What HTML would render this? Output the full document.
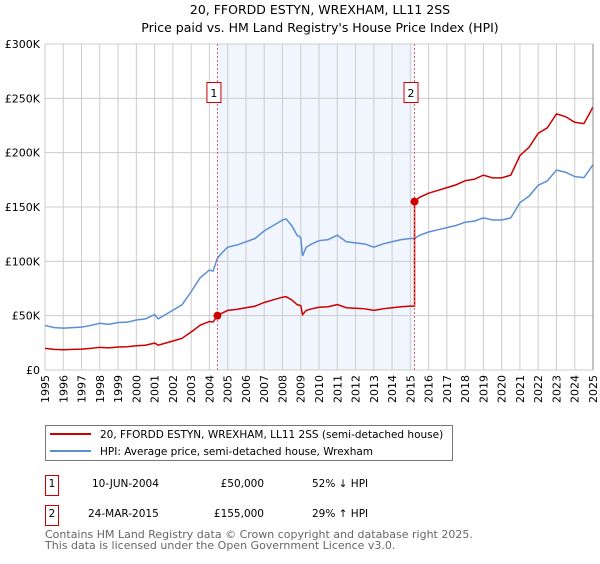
<!DOCTYPE html>
<html><head><meta charset="utf-8"><style>
body{margin:0;background:#fff;font-family:"DejaVu Sans","Liberation Sans",sans-serif;}
svg text{font-family:"DejaVu Sans","Liberation Sans",sans-serif;}
</style></head><body>
<svg width="600" height="560" viewBox="0 0 600 560" xmlns="http://www.w3.org/2000/svg">
<text x="320" y="14" text-anchor="middle" font-size="12.5">20, FFORDD ESTYN, WREXHAM, LL11 2SS</text>
<text x="320" y="32" text-anchor="middle" font-size="12.5">Price paid vs. HM Land Registry's House Price Index (HPI)</text>
<g id="plot"></g>
<g>
<rect x="45.5" y="425.5" width="407" height="35" fill="#fff" stroke="#777"/>
<line x1="50" y1="434" x2="91" y2="434" stroke="#cc0000" stroke-width="2"/>
<text x="100" y="438" font-size="10.5">20, FFORDD ESTYN, WREXHAM, LL11 2SS (semi-detached house)</text>
<line x1="50" y1="451" x2="91" y2="451" stroke="#5b8fd4" stroke-width="2"/>
<text x="100" y="455" font-size="10.5">HPI: Average price, semi-detached house, Wrexham</text>
</g>
<g font-size="10.5">
<rect x="45.5" y="475.5" width="13" height="20" fill="#fff" stroke="#cc0000"/>
<text x="52" y="487" text-anchor="middle">1</text>
<text x="92" y="487">10-JUN-2004</text>
<text x="264" y="487" text-anchor="end">£50,000</text>
<text x="312" y="487">52% ↓ HPI</text>
<rect x="45.5" y="505.5" width="13" height="20" fill="#fff" stroke="#cc0000"/>
<text x="52" y="517" text-anchor="middle">2</text>
<text x="88" y="517">24-MAR-2015</text>
<text x="264" y="517" text-anchor="end">£155,000</text>
<text x="312" y="517">29% ↑ HPI</text>
</g>
<text x="45" y="538" font-size="11" fill="#666">Contains HM Land Registry data © Crown copyright and database right 2025.</text>
<text x="45" y="549" font-size="11" fill="#666">This data is licensed under the Open Government Licence v3.0.</text>
</svg>
<script>
const hpiYears=[1995,1995.5,1996,1996.5,1997,1997.5,1998,1998.5,1999,1999.5,2000,2000.5,2001,2001.2,2001.5,2002,2002.5,2003,2003.5,2004,2004.2,2004.44,2004.7,2005,2005.5,2006,2006.5,2007,2007.5,2008,2008.2,2008.5,2008.8,2009,2009.1,2009.3,2009.6,2010,2010.5,2011,2011.5,2012,2012.5,2013,2013.5,2014,2014.5,2015,2015.23,2015.5,2016,2016.5,2017,2017.5,2018,2018.5,2019,2019.5,2020,2020.5,2021,2021.5,2022,2022.5,2023,2023.5,2024,2024.5,2024.8,2025];
const hpiValues=[41,39,38.5,39,39.5,41,43,42,43.7,44,46,47,51,47,50,55,60,72,85,92,91,103,108,113,115,118,121,128,133,138,139,133,124,122,105,113,116,119,120,124,118,117,116,113,116,118,120,121,121,124,127,129,131,133,136,137,140,138,138,140,154,160,170,174,184,182,178,177,184,189];
const saleYears=[2004.44,2015.23];
const salePrices=[50,155];
const yTicks=[0,50,100,150,200,250,300];
const yTickLabels=["£0","£50K","£100K","£150K","£200K","£250K","£300K"];
const xTicks=[1995,1996,1997,1998,1999,2000,2001,2002,2003,2004,2005,2006,2007,2008,2009,2010,2011,2012,2013,2014,2015,2016,2017,2018,2019,2020,2021,2022,2023,2024,2025];

const X0=45,X1=593,Y0=370,Y1=44;
const sx=y=>X0+(y-1995)/30*(X1-X0);
const sy=v=>Y0-v/300*(Y0-Y1);
const NS="http://www.w3.org/2000/svg";
const g=document.getElementById('plot');
function mk(t,a,p){const e=document.createElementNS(NS,t);for(const k in a)e.setAttribute(k,a[k]);(p||g).appendChild(e);return e;}

const shade=mk('rect',{x:sx(saleYears[0]),y:Y1,width:sx(saleYears[1])-sx(saleYears[0]),height:Y0-Y1,fill:'#eef3fc',opacity:0.8});



xTicks.forEach(t=>{
  const l=mk('line',{x1:sx(t),x2:sx(t),y1:Y1,y2:Y0,stroke:'#ccc','stroke-width':1});
  
  
  const tx=mk('text',{x:0,y:0,'font-size':11,'text-anchor':'end',transform:`translate(${sx(t)+4},${Y0+5}) rotate(-90)`});
  tx.textContent=t;
  
  
});
yTicks.forEach((t,i)=>{
  const l=mk('line',{x1:X0,x2:X1,y1:sy(t),y2:sy(t),stroke:'#ccc','stroke-width':1});
  
  
  const tx=mk('text',{x:X0-5,y:sy(t)+4,'font-size':11,'text-anchor':'end'});
  tx.textContent=yTickLabels[i];
  
  
});

function hpiAt(y){for(let i=0;i<hpiYears.length-1;i++){if(y>=hpiYears[i]&&y<=hpiYears[i+1]){const f=(y-hpiYears[i])/(hpiYears[i+1]-hpiYears[i]);return hpiValues[i]+f*(hpiValues[i+1]-hpiValues[i]);}}return hpiValues[hpiValues.length-1];}

const bp=hpiYears.map((y,i)=>sx(y)+','+sy(hpiValues[i])).join(' ');
const hl=mk('polyline',{points:bp,fill:'none',stroke:'#5b8fd4','stroke-width':1.5});



const r1=salePrices[0]/hpiAt(saleYears[0]), r2=salePrices[1]/hpiAt(saleYears[1]);
let rp=[];
hpiYears.forEach((y,i)=>{
  if(y<saleYears[1]) rp.push([y,hpiValues[i]*r1]);
});
rp.push([saleYears[1],hpiAt(saleYears[1])*r1]);
rp.push([saleYears[1],salePrices[1]]);
hpiYears.forEach((y,i)=>{ if(y>saleYears[1]) rp.push([y,hpiValues[i]*r2]); });
const pl=mk('polyline',{points:rp.map(p=>sx(p[0])+','+sy(p[1])).join(' '),fill:'none',stroke:'#cc0000','stroke-width':1.5});



saleYears.forEach((y,i)=>{
  const l=mk('line',{x1:sx(y),x2:sx(y),y1:Y1,y2:Y0,stroke:'#e06060','stroke-width':1,'stroke-dasharray':'2,2'});
  
  
  const c=mk('circle',{cx:sx(y),cy:sy(salePrices[i]),r:4,fill:'#cc0000'});
  
  
  const b=mk('rect',{x:sx(y)-10.5,y:82.5,width:14,height:20,fill:'#fff',stroke:'#cc0000'});
  
  
  const t=mk('text',{x:sx(y)-3.5,y:97,'font-size':11,'text-anchor':'middle'});
  t.textContent=String(i+1);
  
  
});
const ax=mk('line',{x1:X1,x2:X1,y1:Y1,y2:Y0,stroke:'#888','stroke-width':1});


</script>
</body></html>
